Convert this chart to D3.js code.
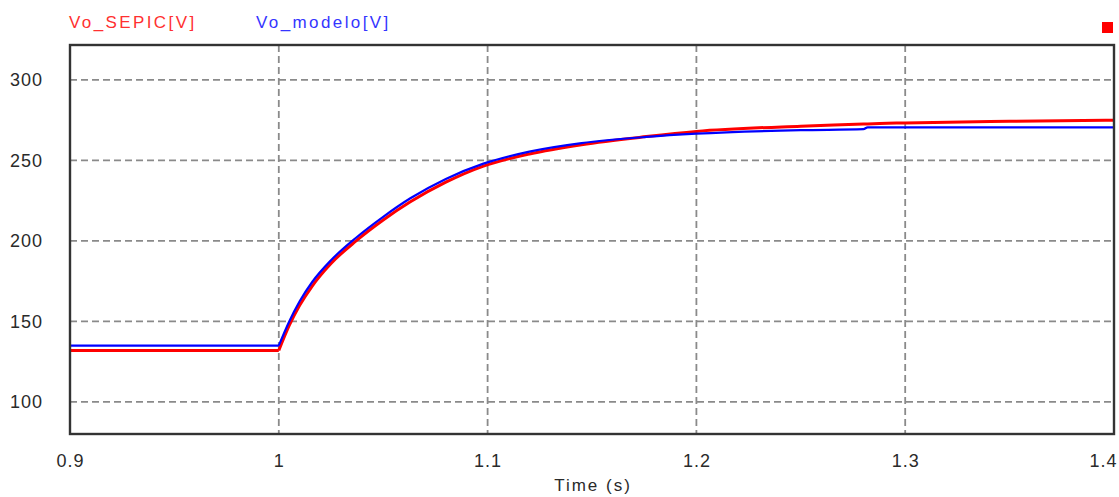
<!DOCTYPE html>
<html><head><meta charset="utf-8">
<script src="https://cdn.jsdelivr.net/npm/d3@7"></script>
<style>body{margin:0;background:#fff;} svg{display:block;}</style>
</head><body>
<svg id="c" width="1119" height="497"></svg>
<script>
const time =     [0.9, 1.0, 1.005, 1.01,  1.016, 1.025, 1.037, 1.05, 1.063, 1.08,  1.098, 1.12,  1.145, 1.176, 1.20,  1.25,  1.28,  1.282, 1.30,  1.35,  1.40];
const voSepic =  [132, 132, 147.5, 160,   172,   186,   200,   213,  224.3, 236.5, 246.5, 254,   259.8, 264.8, 268,   271.3, 272.6, 272.7, 273.3, 274.3, 275];
const voModelo = [135, 135, 150,   162.5, 174.5, 188,   202,   215,  226.5, 238.5, 248,   255.5, 260.8, 264.6, 266.6, 268.8, 269.4, 270.6, 270.6, 270.6, 270.6];
const xTicks = [0.9, 1.0, 1.1, 1.2, 1.3, 1.4];
const yTicks = [100, 150, 200, 250, 300];
const seriesNames = ["Vo_SEPIC[V]", "Vo_modelo[V]"];
const seriesColors = ["#ff0000", "#0000ff"];
const stepIndex = 1; // index in time where the step response starts

const svg = d3.select("#c");
const L = 70, R = 1114, T = 45, B = 434;
const x = d3.scaleLinear().domain([0.9, 1.4]).range([L, R]);
const y = d3.scaleLinear().domain([80.1, 321.7]).range([B, T]);
const font = "Liberation Sans, Arial, sans-serif";

// grid
svg.append("g").selectAll("line").data(yTicks).join("line")
  .attr("x1", L).attr("x2", R).attr("y1", d => y(d)).attr("y2", d => y(d))
  .attr("stroke", "#8a8a8a").attr("stroke-width", 1.8).attr("stroke-dasharray", "7,4");
svg.append("g").selectAll("line").data(xTicks.slice(1, -1)).join("line")
  .attr("y1", T).attr("y2", B).attr("x1", d => x(d)).attr("x2", d => x(d))
  .attr("stroke", "#8a8a8a").attr("stroke-width", 1.8).attr("stroke-dasharray", "7,4");

// axes labels via d3 axes
const xAxis = svg.append("g").attr("transform", `translate(0,${B})`)
  .call(d3.axisBottom(x).tickValues(xTicks).tickSize(0).tickPadding(20).tickFormat(d3.format("")));
const yAxis = svg.append("g").attr("transform", `translate(${L},0)`)
  .call(d3.axisLeft(y).tickValues(yTicks).tickSize(0).tickPadding(27));
[xAxis, yAxis].forEach(a => {
  a.select(".domain").remove();
  a.selectAll("text").attr("font-family", font)
    .attr("font-size", 18).attr("fill", "#2a2a2a").attr("letter-spacing", "1px");
});
// last x label kept inside the picture (right-aligned at edge)
xAxis.selectAll(".tick").filter(d => d === xTicks[xTicks.length - 1]).select("text")
  .attr("text-anchor", "end").attr("x", 1117 - x(xTicks[xTicks.length - 1]));

// lines: flat pre-step part, then the step response
const data = [voSepic, voModelo];
const widths = [3, 2.2];
data.forEach((s, k) => {
  const pts = s.map((v, i) => [time[i], v]);
  const flat = pts.slice(0, stepIndex + 1);
  const rise = pts.slice(stepIndex);
  svg.append("path").datum(flat)
    .attr("d", d3.line().x(d => x(d[0])).y(d => y(d[1])))
    .attr("fill", "none").attr("stroke", seriesColors[k]).attr("stroke-width", widths[k]);
  svg.append("path").datum(rise)
    .attr("d", d3.line().x(d => x(d[0])).y(d => y(d[1])).curve(d3.curveMonotoneX))
    .attr("fill", "none").attr("stroke", seriesColors[k]).attr("stroke-width", widths[k]);
});

// frame
svg.append("rect").attr("x", L).attr("y", T).attr("width", R - L).attr("height", B - T)
  .attr("fill", "none").attr("stroke", "#333").attr("stroke-width", 2.4);

// legend
const legX = [69, 256];
seriesNames.forEach((n, k) => {
  svg.append("text").attr("x", legX[k]).attr("y", 28).text(n)
    .attr("font-family", font).attr("font-size", 17)
    .attr("letter-spacing", "2.4px").attr("fill", k === 0 ? "#ff3030" : "#3535ff");
});
svg.append("rect").attr("x", 1102).attr("y", 22).attr("width", 11).attr("height", 11).attr("fill", "#ff0000");

// x title
svg.append("text").attr("x", 593).attr("y", 491).attr("text-anchor", "middle").text("Time (s)")
  .attr("font-family", font).attr("font-size", 17)
  .attr("letter-spacing", "2px").attr("fill", "#2a2a2a");
</script>
</body></html>
